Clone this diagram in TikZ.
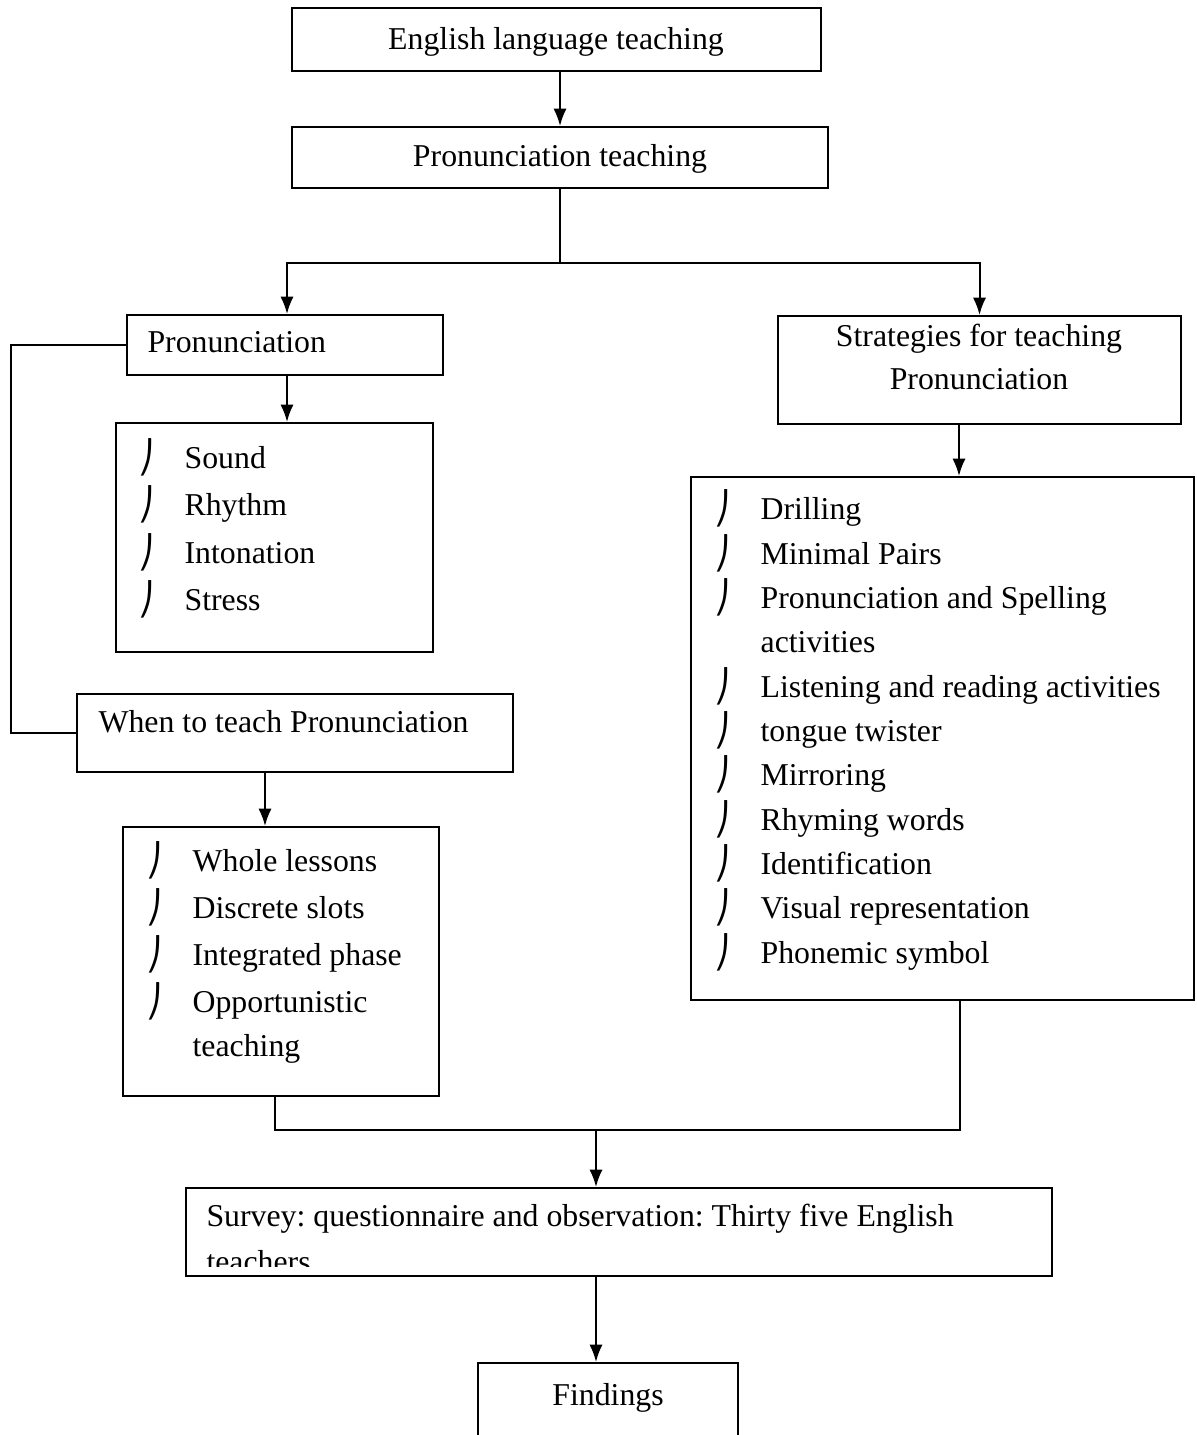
\documentclass[tikz,border=0pt]{standalone}
\usepackage{fontspec}
\setmainfont{Liberation Serif}
\newfontfamily\symbfont{DejaVu Sans}
\usetikzlibrary{arrows.meta}
\usetikzlibrary{calc}
\tikzset{>={Latex[length=6.6pt,width=5pt]}}
\frenchspacing
\newcommand{\pxu}{0.3774pt}
\newcommand{\itm}{\makebox[17.4pt][l]{\symbfont ⎠}}
\tikzstyle{blackline}=[draw=black,line width=0.75pt]
\tikzstyle{boxtext}=[inner sep=0pt,font=\fontsize{12}{17.74}\selectfont]
\tikzset{boxframe/.style 2 args={blackline,rectangle,inner sep=0pt,minimum width=#1*\pxu,minimum height=#2*\pxu}}

\begin{document}
\begin{tikzpicture}[x=\pxu,y=-\pxu]
    \clip (0,0) rectangle (1197,1435);
    \fill[white] (0,0) rectangle (1197,1435);

    % boxes
    \node[boxframe={529}{63}] (elt) at (556.5,39.5) {};
    \node[boxframe={536}{61}] (pt) at (560,157.5) {};
    \node[boxframe={316}{60}] (pron) at (285,345) {};
    \node[boxframe={317}{229}] (feat) at (274.5,537.5) {};
    \node[boxframe={436}{78}] (when) at (295,733) {};
    \node[boxframe={316}{269}] (slots) at (281,961.5) {};
    \node[boxframe={403}{108}] (strat) at (979.5,370) {};
    \node[boxframe={503}{523}] (tech) at (942.5,738.5) {};
    \node[boxframe={866}{88}] (survey) at (619,1232) {};
    \node[boxframe={260}{100}] (find) at (608,1413) {};

    % texts (multi-line nodes sit on their last baseline)
    \node[boxtext,anchor=base] (elttext) at (556,49) {English language teaching};
    \node[boxtext,anchor=base] (pttext) at (560,166) {Pronunciation teaching};
    \node[boxtext,anchor=base west] (prontext) at (147,352) {Pronunciation};
    \node[boxtext,anchor=base west,align=left] (featlist) at (138,610)
        {\itm Sound\\ \itm Rhythm\\ \itm Intonation\\ \itm Stress};
    \node[boxtext,anchor=base west] (whentext) at (98,732) {When to teach Pronunciation};
    \node[boxtext,anchor=base west,align=left,font=\fontsize{12}{17.85}\selectfont] (slotlist) at (146,1056)
        {\itm Whole lessons\\ \itm Discrete slots\\ \itm Integrated phase\\
         \itm Opportunistic\\[-1.6pt] \hspace*{17.4pt}teaching};
    \node[boxtext,anchor=base,align=center,font=\fontsize{12}{16.2}\selectfont] (strattext) at (979,389)
        {Strategies for teaching\\Pronunciation};
    \node[boxtext,anchor=base west,align=left,font=\fontsize{12}{16.72}\selectfont] (techlist) at (714,963)
        {\itm Drilling\\ \itm Minimal Pairs\\ \itm Pronunciation and Spelling\\
         \hspace*{17.4pt}activities\\ \itm Listening and reading activities\\
         \itm tongue twister\\ \itm Mirroring\\ \itm Rhyming words\\
         \itm Identification\\ \itm Visual representation\\ \itm Phonemic symbol};
    \begin{scope}
        \clip (186,1188) rectangle (1052,1266);
        \node[boxtext,anchor=base west,align=left,font=\fontsize{12}{17}\selectfont] (surveytext) at (206,1272)
            {Survey: questionnaire and observation: Thirty five English\\teachers};
    \end{scope}
    \node[boxtext,anchor=base] (findtext) at (608,1405) {Findings};

    % connectors
    \draw[blackline,->] (elt.south -| pt.north) -- (pt.north);
    \draw[blackline] (pt.south) -- ++(0,74) coordinate (split);
    \draw[blackline,->] (split) -| ($(pron.north)+(2,0)$);
    \draw[blackline,->] (split) -| (strat.north);
    \draw[blackline,->] ($(pron.south)+(2,0)$) coordinate (pa) -- (pa |- feat.north);
    \draw[blackline] (pron.west) -- ++(-115,0) |- (when.west);
    \draw[blackline,->] ($(when.south)+(-30,0)$) coordinate (wa) -- (wa |- slots.north);
    \draw[blackline,->] ($(strat.south)+(-20.5,0)$) coordinate (sa) -- (sa |- tech.north);
    \coordinate (join) at (596,1130);
    \draw[blackline] ($(slots.south)+(-6,0)$) |- (join) -| ($(tech.south)+(17.5,0)$);
    \draw[blackline,->] (join) -- (join |- survey.north);
    \draw[blackline,->] (join |- survey.south) -- (join |- find.north);
\end{tikzpicture}
\end{document}
